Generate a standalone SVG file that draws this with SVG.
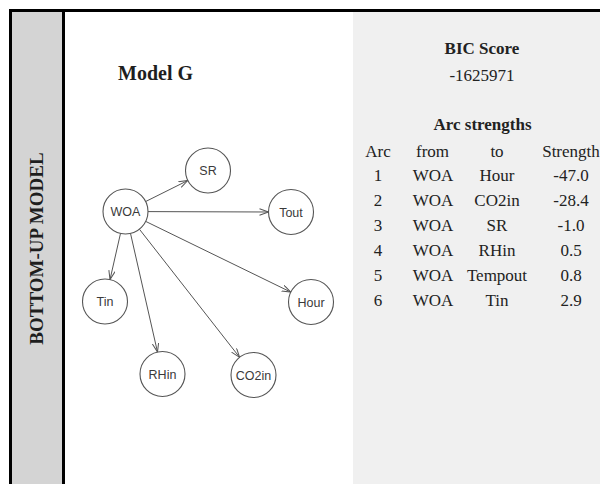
<svg xmlns="http://www.w3.org/2000/svg" width="600" height="484" viewBox="0 0 600 484">
  <style>
    .node circle { fill: #ffffff; stroke: #555555; stroke-width: 1.1; }
    .node text { font-family: "Liberation Sans", Arial, sans-serif; font-size: 12.5px; fill: #3a3a3a; text-anchor: middle; }
    .edge { stroke: #555555; stroke-width: 1; fill: none; marker-end: url(#arrow); }
    .serif { font-family: "Liberation Serif", "Times New Roman", serif; fill: #1e1e1e; }
    .tbl { font-family: "Liberation Serif", "Times New Roman", serif; font-size: 17px; fill: #222222; text-anchor: middle; }
  </style>
  <defs>
    <marker id="arrow" viewBox="0 0 10 8" refX="9" refY="3.5" markerWidth="10" markerHeight="8" markerUnits="userSpaceOnUse" orient="auto">
      <path d="M0,0.3 L9,3.5 L0,6.7" fill="none" stroke="#555555" stroke-width="1"/>
    </marker>
  </defs>

  <!-- background and frame -->
  <rect x="0" y="0" width="600" height="484" fill="#ffffff"/>
  <rect x="12" y="12" width="50" height="472" fill="#d4d4d4"/>
  <rect x="353" y="12" width="247" height="472" fill="#f0f0f0"/>
  <rect x="9" y="9" width="591" height="3" fill="#000000"/>
  <rect x="9" y="9" width="3" height="475" fill="#000000"/>
  <rect x="62" y="12" width="3" height="472" fill="#000000"/>

  <!-- side label -->
  <text class="serif" x="43" y="248.5" font-size="19" font-weight="bold" text-anchor="middle" transform="rotate(-90 43 248.5)">BOTTOM-UP MODEL</text>

  <!-- title -->
  <text class="serif" x="118" y="80" font-size="20" font-weight="bold">Model G</text>

  <!-- connectors -->
  <g id="edges">
    <line class="edge" x1="145.7" y1="201.5" x2="187.8" y2="180.5"/>
    <line class="edge" x1="148" y1="211.6" x2="268.5" y2="212"/>
    <line class="edge" x1="145.7" y1="221.4" x2="290.8" y2="292.1"/>
    <line class="edge" x1="139.4" y1="229.2" x2="239.6" y2="357.3"/>
    <line class="edge" x1="130.5" y1="233.4" x2="157.5" y2="352.1"/>
    <line class="edge" x1="120.5" y1="233.4" x2="110" y2="279.6"/>
  </g>

  <!-- nodes -->
  <g id="node-WOA" class="node"><circle cx="125.5" cy="211.5" r="22.5"/><text x="125.5" y="216">WOA</text></g>
  <g id="node-SR" class="node"><circle cx="208" cy="170.5" r="22.5"/><text x="208" y="175">SR</text></g>
  <g id="node-Tout" class="node"><circle cx="291" cy="212" r="22.5"/><text x="291" y="216.5">Tout</text></g>
  <g id="node-Hour" class="node"><circle cx="311" cy="302" r="22.5"/><text x="311" y="306.5">Hour</text></g>
  <g id="node-Tin" class="node"><circle cx="105" cy="301.5" r="22.5"/><text x="105" y="306">Tin</text></g>
  <g id="node-RHin" class="node"><circle cx="162.5" cy="374" r="22.5"/><text x="162.5" y="378.5">RHin</text></g>
  <g id="node-CO2in" class="node"><circle cx="253.5" cy="375" r="22.5"/><text x="253.5" y="379.5">CO2in</text></g>

  <!-- score and arc strength table -->
  <g id="table">
    <text class="tbl" x="482" y="54" font-weight="bold">BIC Score</text>
    <text class="tbl" x="482" y="81">-1625971</text>
    <text class="tbl" x="482.5" y="130" font-weight="bold">Arc strengths</text>

    <text class="tbl" x="378" y="157">Arc</text>
    <text class="tbl" x="432.5" y="157">from</text>
    <text class="tbl" x="497" y="157">to</text>
    <text class="tbl" x="571" y="157">Strength</text>

    <text class="tbl" x="378" y="181">1</text>
    <text class="tbl" x="433" y="181">WOA</text>
    <text class="tbl" x="497" y="181">Hour</text>
    <text class="tbl" x="571" y="181">-47.0</text>

    <text class="tbl" x="378" y="206">2</text>
    <text class="tbl" x="433" y="206">WOA</text>
    <text class="tbl" x="497" y="206">CO2in</text>
    <text class="tbl" x="571" y="206">-28.4</text>

    <text class="tbl" x="378" y="231">3</text>
    <text class="tbl" x="433" y="231">WOA</text>
    <text class="tbl" x="497" y="231">SR</text>
    <text class="tbl" x="571" y="231">-1.0</text>

    <text class="tbl" x="378" y="256">4</text>
    <text class="tbl" x="433" y="256">WOA</text>
    <text class="tbl" x="497" y="256">RHin</text>
    <text class="tbl" x="571" y="256">0.5</text>

    <text class="tbl" x="378" y="281">5</text>
    <text class="tbl" x="433" y="281">WOA</text>
    <text class="tbl" x="497" y="281">Tempout</text>
    <text class="tbl" x="571" y="281">0.8</text>

    <text class="tbl" x="378" y="306">6</text>
    <text class="tbl" x="433" y="306">WOA</text>
    <text class="tbl" x="497" y="306">Tin</text>
    <text class="tbl" x="571" y="306">2.9</text>
  </g>
</svg>
